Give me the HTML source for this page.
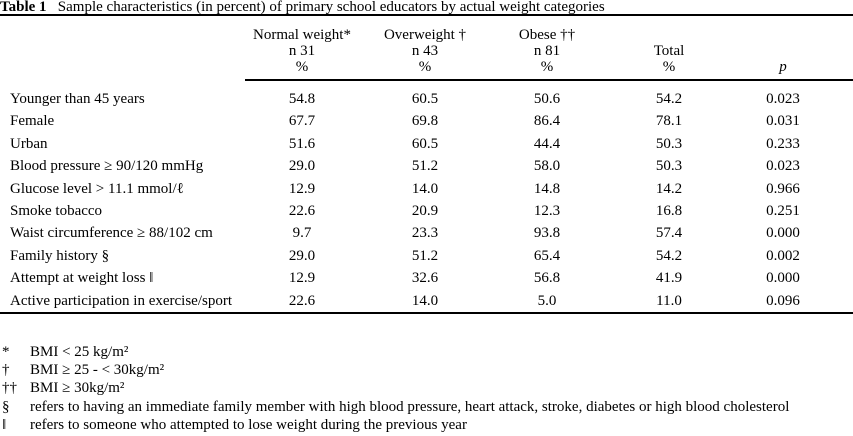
<!DOCTYPE html>
<html><head><meta charset="utf-8"><style>
body{margin:0;width:853px;height:436px;background:#fff;position:relative;overflow:hidden;font-family:"Liberation Serif",serif;font-size:15px;color:#000}
div.t{position:absolute;white-space:nowrap;line-height:15px}
.c{transform:translateX(-50%)}
.rule{position:absolute;background:#000}
</style></head><body>
<div class="t" style="left:0;top:0"><b>Table 1</b>&nbsp;&nbsp; Sample characteristics (in percent) of primary school educators by actual weight categories</div>
<div class="rule" style="left:0;top:14px;width:853px;height:2px"></div>
<div class="rule" style="left:245px;top:79px;width:608px;height:2px"></div>
<div class="rule" style="left:0;top:312px;width:853px;height:2px"></div>
<div id="tbl"></div>
<script>
const headers=[["Normal weight*","n 31","%"],["Overweight †","n 43","%"],["Obese ††","n 81","%"],["","Total","%"],["","","<i>p</i>"]];
const colX=[302,425,547,669,783];
const labels=["Younger than 45 years","Female","Urban","Blood pressure ≥ 90/120 mmHg","Glucose level > 11.1 mmol/ℓ","Smoke tobacco","Waist circumference ≥ 88/102 cm","Family history §","Attempt at weight loss ‖","Active participation in exercise/sport"];
const normal=["54.8","67.7","51.6","29.0","12.9","22.6","9.7","29.0","12.9","22.6"];
const over=["60.5","69.8","60.5","51.2","14.0","20.9","23.3","51.2","32.6","14.0"];
const obese=["50.6","86.4","44.4","58.0","14.8","12.3","93.8","65.4","56.8","5.0"];
const total=["54.2","78.1","50.3","50.3","14.2","16.8","57.4","54.2","41.9","11.0"];
const pval=["0.023","0.031","0.233","0.023","0.966","0.251","0.000","0.002","0.000","0.096"];
const cols=[normal,over,obese,total,pval];
const root=document.getElementById('tbl');
function mk(txt,left,top,center){const d=document.createElement('div');d.className='t'+(center?' c':'');d.style.left=left+'px';d.style.top=top+'px';d.innerHTML=txt;root.appendChild(d);return d;}
headers.forEach((h,i)=>h.forEach((s,j)=>{if(!s)return;const d=mk(s,colX[i],28+j*16,true);

}));
labels.forEach((l,r)=>{const y=92+r*22.4;const d=mk(l,10,y,false);


cols.forEach((c,i)=>{const e=mk(c[r],colX[i],y,true);

});});
const fnSym=["*","†","††","§","‖"];
const fnTxt=["BMI &lt; 25 kg/m²","BMI ≥ 25 - &lt; 30kg/m²","BMI ≥ 30kg/m²","refers to having an immediate family member with high blood pressure, heart attack, stroke, diabetes or high blood cholesterol","refers to someone who attempted to lose weight during the previous year"];
fnSym.forEach((s,i)=>{const y=345+i*18.2;const a=mk(s,2,y,false);


const b=mk(fnTxt[i],30,y,false);

});
</script>
</body></html>
